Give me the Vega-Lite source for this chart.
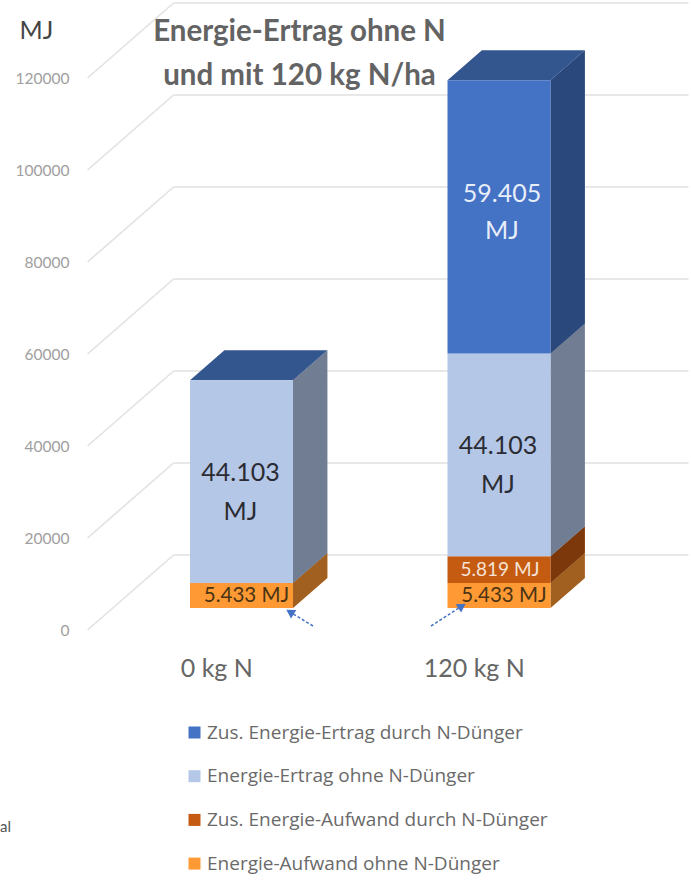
{
  "$schema": "https://vega.github.io/schema/vega-lite/v6.json",
  "width": 691,
  "height": 880,
  "padding": 0,
  "autosize": {"type": "none"},
  "background": "white",
  "config": {"view": {"stroke": null}},
  "title": {
    "text": ["Energie-Ertrag ohne N", "und mit 120 kg N/ha"],
    "font": "Lato",
    "fontSize": 29.5,
    "fontWeight": 700,
    "color": "#636363",
    "lineHeight": 44,
    "anchor": "middle",
    "dx": -46,
    "dy": 95
  },
  "datasets": {
    "segments": [
      {"bar": "0 kg N", "slot": 0, "layer": 1, "series": "Energie-Aufwand ohne N-Dünger", "value": 5433},
      {"bar": "0 kg N", "slot": 0, "layer": 3, "series": "Energie-Ertrag ohne N-Dünger", "value": 44103},
      {"bar": "120 kg N", "slot": 1, "layer": 1, "series": "Energie-Aufwand ohne N-Dünger", "value": 5433},
      {"bar": "120 kg N", "slot": 1, "layer": 2, "series": "Zus. Energie-Aufwand durch N-Dünger", "value": 5819},
      {"bar": "120 kg N", "slot": 1, "layer": 3, "series": "Energie-Ertrag ohne N-Dünger", "value": 44103},
      {"bar": "120 kg N", "slot": 1, "layer": 4, "series": "Zus. Energie-Ertrag durch N-Dünger", "value": 59405}
    ],
    "levels": [
      {"level": 0}, {"level": 20000}, {"level": 40000}, {"level": 60000},
      {"level": 80000}, {"level": 100000}, {"level": 120000}
    ],
    "arrows": [
      {"arrow": "left", "tailX": 0.3755, "tailY": 870, "headX": 0.2862, "headY": 3913},
      {"arrow": "right", "tailX": 0.8338, "tailY": 870, "headX": 0.9542, "headY": 5217}
    ],
    "stray": [{"text": "al"}]
  },
  "layer": [
    {
      "data": {"name": "levels"},
      "transform": [{"calculate": "datum.level + 16304", "as": "wall"}],
      "layer": [
        {
          "mark": {"type": "rule", "color": "#e2e2e2", "strokeWidth": 1.6},
          "encoding": {
            "x": {
              "datum": -0.5,
              "type": "quantitative",
              "scale": {"domain": [-0.84, 1.8435], "nice": false, "zero": false},
              "axis": {
                "values": [0, 1],
                "labelExpr": "datum.value == 0 ? '0 kg N' : '120 kg N'",
                "title": null,
                "grid": false,
                "domain": false,
                "ticks": false,
                "offset": -224,
                "labelPadding": 0,
                "labelFont": "Lato",
                "labelFontSize": 25,
                "labelColor": "#666666"
              }
            },
            "x2": {"datum": -0.166},
            "y": {
              "field": "level",
              "type": "quantitative",
              "scale": {"domain": [-54348, 136957], "nice": false, "zero": false},
              "axis": {
                "values": [0, 20000, 40000, 60000, 80000, 100000, 120000],
                "format": "d",
                "title": "MJ",
                "titleAngle": 0,
                "titleX": -38,
                "titleY": 30,
                "titleAlign": "center",
                "titleBaseline": "middle",
                "titleFont": "Lato",
                "titleFontSize": 25,
                "titleFontWeight": 400,
                "titleColor": "#444444",
                "grid": false,
                "domain": false,
                "ticks": false,
                "offset": -74,
                "labelPadding": 5,
                "labelFont": "Lato",
                "labelFontSize": 15.5,
                "labelColor": "#a0a0a0"
              }
            },
            "y2": {"field": "wall"}
          }
        },
        {
          "mark": {"type": "rule", "color": "#e8e8e8", "strokeWidth": 2},
          "encoding": {
            "x": {"datum": -0.166, "type": "quantitative"},
            "x2": {"datum": 1.834},
            "y": {"field": "wall", "type": "quantitative"}
          }
        }
      ]
    },
    {
      "data": {"name": "segments"},
      "transform": [
        {"stack": "value", "groupby": ["bar"], "sort": [{"field": "layer", "order": "ascending"}], "as": ["lo", "hi"]},
        {"joinaggregate": [{"op": "max", "field": "hi", "as": "total"}], "groupby": ["bar"]},
        {"calculate": "datum.slot + 0.0979 - 0.2", "as": "left"},
        {"calculate": "datum.slot + 0.0979 + 0.2", "as": "right"},
        {"calculate": "datum.slot + 0.0979", "as": "mid"},
        {"calculate": "datum.lo + 4777", "as": "frontLo"},
        {"calculate": "datum.hi + 4777", "as": "frontHi"},
        {"calculate": "(datum.lo + datum.hi) / 2 + 4777", "as": "frontMid"},
        {"calculate": "replace(format(datum.value, ','), ',', '.')", "as": "label"}
      ],
      "layer": [
        {
          "transform": [
            {"calculate": "[0.293, 0.693]", "as": "depth"},
            {"flatten": ["depth"]},
            {"calculate": "datum.slot + 0.2 + datum.depth * 0.334", "as": "sx"},
            {"calculate": "datum.lo + datum.depth * 16304", "as": "sLo"},
            {"calculate": "datum.hi + datum.depth * 16304", "as": "sHi"}
          ],
          "layer": [
            {
              "mark": {"type": "area", "line": false},
              "encoding": {
                "x": {"field": "sx", "type": "quantitative"},
                "y": {"field": "sLo", "type": "quantitative", "stack": null},
                "y2": {"field": "sHi"},
                "detail": {"field": "bar"},
                "color": {"field": "series", "type": "nominal"}
              }
            },
            {
              "mark": {"type": "area", "line": false, "color": "#000000", "opacity": 0.37},
              "encoding": {
                "x": {"field": "sx", "type": "quantitative"},
                "y": {"field": "sLo", "type": "quantitative", "stack": null},
                "y2": {"field": "sHi"},
                "detail": [{"field": "bar"}, {"field": "series"}]
              }
            }
          ]
        },
        {
          "transform": [
            {"filter": "datum.hi == datum.total"},
            {"calculate": "[0.293, 0.693]", "as": "depth"},
            {"flatten": ["depth"]},
            {"calculate": "datum.slot - 0.2 + datum.depth * 0.334", "as": "tx0"},
            {"calculate": "datum.slot + 0.2 + datum.depth * 0.334", "as": "tx1"},
            {"calculate": "datum.hi + datum.depth * 16304", "as": "ty"}
          ],
          "mark": {"type": "area", "orient": "horizontal", "color": "#33568F", "line": false},
          "encoding": {
            "y": {"field": "ty", "type": "quantitative"},
            "x": {"field": "tx0", "type": "quantitative", "stack": null},
            "x2": {"field": "tx1"},
            "detail": {"field": "bar"}
          }
        },
        {
          "mark": {"type": "rect"},
          "encoding": {
            "x": {"field": "left", "type": "quantitative"},
            "x2": {"field": "right"},
            "y": {"field": "frontLo", "type": "quantitative"},
            "y2": {"field": "frontHi"},
            "color": {
              "field": "series",
              "type": "nominal",
              "scale": {
                "domain": [
                  "Zus. Energie-Ertrag durch N-Dünger",
                  "Energie-Ertrag ohne N-Dünger",
                  "Zus. Energie-Aufwand durch N-Dünger",
                  "Energie-Aufwand ohne N-Dünger"
                ],
                "range": ["#4472C4", "#B4C7E7", "#C55A11", "#FF9933"]
              },
              "legend": {
                "title": null,
                "orient": "none",
                "legendX": 185,
                "legendY": 723,
                "symbolType": "square",
                "symbolSize": 144,
                "symbolStrokeWidth": 0,
                "symbolOpacity": 1,
                "labelFont": "Open Sans",
                "labelFontSize": 19,
                "labelColor": "#6a6a6a",
                "labelLimit": 400,
                "labelOffset": 3,
                "rowPadding": 23.7
              }
            }
          }
        },
        {
          "transform": [{"filter": "datum.layer == 3"}, {"calculate": "datum.label + '\\nMJ'", "as": "text"}],
          "mark": {"type": "text", "font": "Lato", "fontSize": 25, "lineHeight": 39, "lineBreak": "\n", "color": "#2b2b33", "dy": -9, "dx": -1},
          "encoding": {
            "x": {"field": "mid", "type": "quantitative"},
            "y": {"field": "frontMid", "type": "quantitative"},
            "text": {"field": "text"}
          }
        },
        {
          "transform": [{"filter": "datum.layer == 4"}, {"calculate": "datum.label + '\\nMJ'", "as": "text"}],
          "mark": {"type": "text", "font": "Lato", "fontSize": 25, "lineHeight": 37, "lineBreak": "\n", "color": "#e8eefa", "dy": -23, "dx": 3},
          "encoding": {
            "x": {"field": "mid", "type": "quantitative"},
            "y": {"field": "frontMid", "type": "quantitative"},
            "text": {"field": "text"}
          }
        },
        {
          "transform": [{"filter": "datum.layer == 1"}, {"calculate": "datum.label + ' MJ'", "as": "text"}],
          "mark": {"type": "text", "font": "Lato", "fontSize": 20.5, "color": "#4a3414", "dx": 5},
          "encoding": {
            "x": {"field": "mid", "type": "quantitative"},
            "y": {"field": "frontMid", "type": "quantitative"},
            "text": {"field": "text"}
          }
        },
        {
          "transform": [{"filter": "datum.layer == 2"}, {"calculate": "datum.label + ' MJ'", "as": "text"}],
          "mark": {"type": "text", "font": "Lato", "fontSize": 19, "color": "#f5e3d6", "dx": 1},
          "encoding": {
            "x": {"field": "mid", "type": "quantitative"},
            "y": {"field": "frontMid", "type": "quantitative"},
            "text": {"field": "text"}
          }
        }
      ]
    },
    {
      "data": {"name": "arrows"},
      "layer": [
        {
          "mark": {"type": "rule", "color": "#4472C4", "strokeWidth": 1.5, "strokeDash": [3, 2]},
          "encoding": {
            "x": {"field": "tailX", "type": "quantitative"},
            "x2": {"field": "headX"},
            "y": {"field": "tailY", "type": "quantitative"},
            "y2": {"field": "headY"}
          }
        },
        {
          "transform": [{"filter": "datum.arrow == 'left'"}],
          "mark": {"type": "point", "shape": "triangle-up", "filled": true, "opacity": 1, "size": 100, "color": "#4472C4", "angle": 302},
          "encoding": {
            "x": {"field": "headX", "type": "quantitative"},
            "y": {"field": "headY", "type": "quantitative"}
          }
        },
        {
          "transform": [{"filter": "datum.arrow == 'right'"}],
          "mark": {"type": "point", "shape": "triangle-up", "filled": true, "opacity": 1, "size": 100, "color": "#4472C4", "angle": 57},
          "encoding": {
            "x": {"field": "headX", "type": "quantitative"},
            "y": {"field": "headY", "type": "quantitative"}
          }
        }
      ]
    },
    {
      "data": {"name": "stray"},
      "mark": {"type": "text", "font": "Lato", "fontSize": 15, "color": "#555555", "align": "left"},
      "encoding": {
        "x": {"datum": -0.84, "type": "quantitative"},
        "y": {"datum": -42826, "type": "quantitative"},
        "text": {"field": "text"}
      }
    }
  ]
}
